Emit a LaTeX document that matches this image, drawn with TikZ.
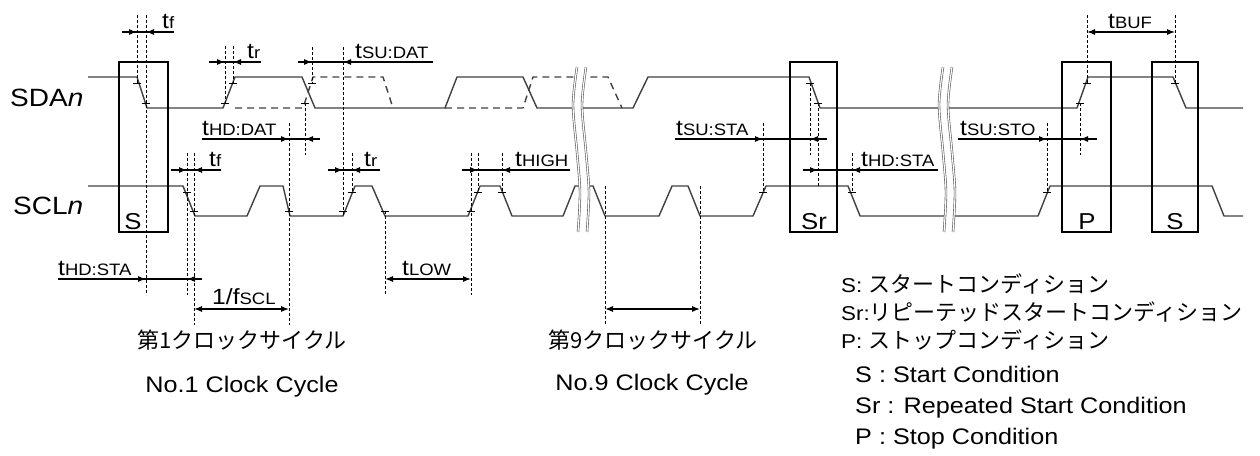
\documentclass[tikz,border=0pt]{standalone}
\usepackage{fontspec}
\setmainfont{Liberation Sans}[FakeStretch=1.12]
\newfontfamily\cjk{Noto Sans CJK JP}
\usetikzlibrary{arrows.meta}
\newcommand{\tsz}[1]{{\fontsize{22}{22}\selectfont #1}}
\newcommand{\ssz}[1]{{\fontsize{16.5}{16.5}\selectfont #1}}
\newcommand{\tlab}[1]{\tsz{t}\ssz{#1}}
\newcommand{\jp}{\cjk\fontsize{22}{26}\selectfont}
\newcommand{\en}{\fontsize{22.5}{26}\selectfont}
\begin{document}
\begin{tikzpicture}[x=1pt,y=-1pt,
  sig/.style={line width=1.4pt, black!75, line join=round},
  sigd/.style={sig, dash pattern=on 7pt off 5pt},
  dl/.style={line width=0.9pt, dash pattern=on 3pt off 2pt},
  ann/.style={line width=1.1pt},
  ah/.style={-{Latex[length=8pt,width=6pt]}, line width=1.1pt},
  dah/.style={{Latex[length=8pt,width=6pt]}-{Latex[length=8pt,width=6pt]}, line width=1.1pt},
  condbox/.style={line width=1.3pt},
  tk/.style={line width=1pt},
  lbl/.style={inner sep=0pt, anchor=base west},
  brk/.style={draw=black!65, double=white, double distance=1.2pt, line width=0.6pt}]
\useasboundingbox (0,0) rectangle (1260,455);

% ---------- SDA ----------
\draw[sig] (88,77) -- (137,77) -- (147,108) -- (223,108) -- (235,77) -- (302,77) -- (315,108)
  -- (445,108) -- (457,77) -- (523,77) -- (537,108) -- (633,108) -- (648,77) -- (809,77)
  -- (820,108) -- (1077,108) -- (1088,77) -- (1173,77) -- (1186,108) -- (1243,108);
\draw[sigd] (235,108) -- (303,108) -- (313,77) -- (383,77) -- (393,108);
\draw[sigd] (445,108) -- (523,108) -- (533,77) -- (608,77) -- (622,108);

% ---------- SCL ----------
\draw[sig] (88,186) -- (183,186) -- (195,216) -- (247,216) -- (260,186) -- (283,186) -- (290,216)
  -- (343,216) -- (355,186) -- (372,186) -- (385,216) -- (468,216) -- (480,186) -- (500,186)
  -- (512,216) -- (563,216) -- (575,186) -- (593,186) -- (605,216) -- (659,216) -- (672,186)
  -- (688,186) -- (700,216) -- (753,216) -- (766,186) -- (848,186) -- (860,216) -- (1038,216)
  -- (1050,186) -- (1212,186) -- (1224,216) -- (1243,216);

% ---------- breaks ----------
\foreach \s in {0,366}{
  \fill[white] plot[smooth] coordinates {(577+\s,67) (573+\s,105) (577+\s,152) (580+\s,192) (578+\s,232)}
    -- plot[smooth] coordinates {(587+\s,232) (589+\s,192) (586+\s,152) (582+\s,105) (586+\s,67)} -- cycle;
  \draw[brk] plot[smooth] coordinates {(577+\s,67) (573+\s,105) (577+\s,152) (580+\s,192) (578+\s,232)};
  \draw[brk] plot[smooth] coordinates {(586+\s,67) (582+\s,105) (586+\s,152) (589+\s,192) (587+\s,232)};
}

% ---------- condition boxes ----------
\draw[condbox] (119,62) rectangle (168,232);
\draw[condbox] (790,62) rectangle (837,232);
\draw[condbox] (1062,62) rectangle (1111,232);
\draw[condbox] (1152,62) rectangle (1198,232);
\begin{scope}[every node/.style={inner sep=0pt, anchor=base, font=\fontsize{23}{23}\selectfont}]
\node (bS) at (133,229) {S};
\node (bSr) at (814,229) {Sr};
\node (bP) at (1087,229) {P};
\node (bS2) at (1175,229) {S};
\end{scope}

% ---------- dashed reference lines ----------
\foreach \x/\a/\b in {137/15/83, 146/15/295, 225/46/103, 233/46/83, 312/47/83, 343/47/216,
  305/103/155, 289/123/325, 187/153/295, 194/153/325, 352/153/192, 385/211/295,
  471/153/295, 478/153/192, 502/153/192, 605/186/325, 700/186/325, 763/123/192,
  810/83/155, 818/103/186, 852/153/192, 1047/123/192, 1080/103/155, 1087/15/83, 1175/15/83}
  \draw[dl] (\x,\a) -- (\x,\b);

% ---------- ticks ----------
\foreach \x/\y in {137/83, 146/103, 225/103, 233/83, 305/103, 312/83, 810/83, 818/103,
  1080/103, 1087/83, 1175/83, 187/192, 194/211, 289/211, 343/211, 352/192, 385/211,
  471/211, 478/192, 502/192, 763/192, 852/192, 1047/192}
  \draw[tk] (\x-4,\y) -- (\x+4,\y);

% ---------- timing arrows (line, tip from left, tip from right) ----------
\foreach \l/\r/\y/\p/\q in {122/174/32/137/146, 209/261/62/225/233, 298/433/62/312/343,
  202/320/139/289/305, 171/221/170/187/194, 328/380/170/343/352, 462/570/170/478/502,
  675/827/139/763/810, 803/938/170/818/852, 958/1097/139/1047/1080, 58/202/279/146/187}{
  \draw[ann] (\l,\y) -- (\r,\y);
  \draw[ah] (\p-10,\y) -- (\p,\y);
  \draw[ah] (\q+10,\y) -- (\q,\y);
}
\draw[dah] (1087,32) -- (1175,32);
\draw[dah] (194,309) -- (289,309);
\draw[dah] (385,279) -- (471,279);
\draw[dah] (605,309) -- (700,309);

% ---------- timing labels ----------
\node[lbl] (ltf1) at (162,28) {\tlab{f}};
\node[lbl] (ltr1) at (247,58) {\tlab{r}};
\node[lbl] (lsudat) at (355,58) {\tlab{SU:DAT}};
\node[lbl] (lhddat) at (202,135) {\tlab{HD:DAT}};
\node[lbl] (ltf2) at (209,166) {\tlab{f}};
\node[lbl] (ltr2) at (364,166) {\tlab{r}};
\node[lbl] (lhigh) at (515,166) {\tlab{HIGH}};
\node[lbl] (lsusta) at (676,135) {\tlab{SU:STA}};
\node[lbl] (lhdsta) at (861,166) {\tlab{HD:STA}};
\node[lbl] (lsusto) at (960,135) {\tlab{SU:STO}};
\node[lbl] (lbuf) at (1108,28) {\tlab{BUF}};
\node[lbl] (lhdsta2) at (58,275) {\tlab{HD:STA}};
\node[lbl] (lfscl) at (212,304) {\tsz{1/f}\ssz{SCL}};
\node[lbl] (llow) at (402,275) {\tlab{LOW}};

% ---------- signal names ----------
\node[lbl, font=\fontsize{25}{25}\selectfont] (sda) at (10,106) {SDA\textit{n}};
\node[lbl, font=\fontsize{25}{25}\selectfont] (scl) at (13,214) {SCL\textit{n}};

% ---------- cycle captions ----------
\node[inner sep=0pt, anchor=base] (c1j) at (242,348) {\jp 第1クロックサイクル};
\node[inner sep=0pt, anchor=base] (c1e) at (242,392) {\en No.1 Clock Cycle};
\node[inner sep=0pt, anchor=base] (c9j) at (653,348) {\jp 第9クロックサイクル};
\node[inner sep=0pt, anchor=base] (c9e) at (652,390) {\en No.9 Clock Cycle};

% ---------- legend ----------
\begin{scope}[every node/.style={lbl, font=\fontsize{20}{24}\selectfont}]
\node (g1) at (841,292) {S: {\jp スタートコンディション}};
\node (g2) at (841,320) {Sr:{\jp リピーテッドスタートコンディション}};
\node (g3) at (841,348) {P: {\jp ストップコンディション}};
\node (g4) at (855,382) {\en S : Start Condition};
\node (g5) at (855,413) {\en Sr : Repeated Start Condition};
\node (g6) at (855,444) {\en P : Stop Condition};
\end{scope}
\end{tikzpicture}
\end{document}
